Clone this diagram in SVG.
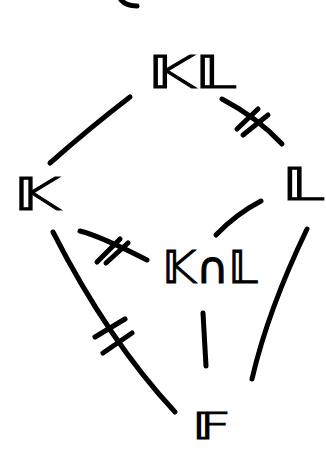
<svg xmlns="http://www.w3.org/2000/svg" width="326" height="450" viewBox="0 0 326 450">
<style>
.e{fill:none;stroke:#000;stroke-width:5;stroke-linecap:round;stroke-linejoin:round}
.t{font-family:"DejaVu Sans",sans-serif;font-size:44px;fill:#000;stroke:#000;stroke-width:1;text-anchor:middle}
</style>
<rect width="326" height="450" fill="#fff"/>
<g id="connectors">
<path class="e" d="M121,0 Q126,6 137,6"/>
<path class="e" d="M130,97 Q92,126 50,163"/>
<path class="e" d="M222,99 Q258,118 282,144"/>
<path class="e" d="M237,129 L258,109 M243,135 L268,115"/>
<path class="e" d="M261,201 Q236,214 216,235"/>
<path class="e" d="M80,231 Q100,236 147,260"/>
<path class="e" d="M97,262 L120,239 M106,263 L128,243"/>
<path class="e" d="M53,232 Q108,340 175,412"/>
<path class="e" d="M95,337 L125,319 M103,353 L132,333"/>
<path class="e" d="M203,313 L206,366"/>
<path class="e" d="M307,229 Q268,310 252,379"/>
</g>
<g id="KL"><text class="t" x="192" y="88" textLength="88" lengthAdjust="spacingAndGlyphs">𝕂𝕃</text></g>
<g id="K"><text class="t" x="37" y="210" textLength="46" lengthAdjust="spacingAndGlyphs">𝕂</text></g>
<g id="L"><text class="t" x="303" y="200" textLength="42" lengthAdjust="spacingAndGlyphs">𝕃</text></g>
<g id="KcapL"><text class="t" x="210" y="283" textLength="95" lengthAdjust="spacingAndGlyphs">𝕂∩𝕃</text></g>
<g id="F"><text class="t" x="211" y="439" style="font-size:38px" textLength="38" lengthAdjust="spacingAndGlyphs">𝔽</text></g>
</svg>
